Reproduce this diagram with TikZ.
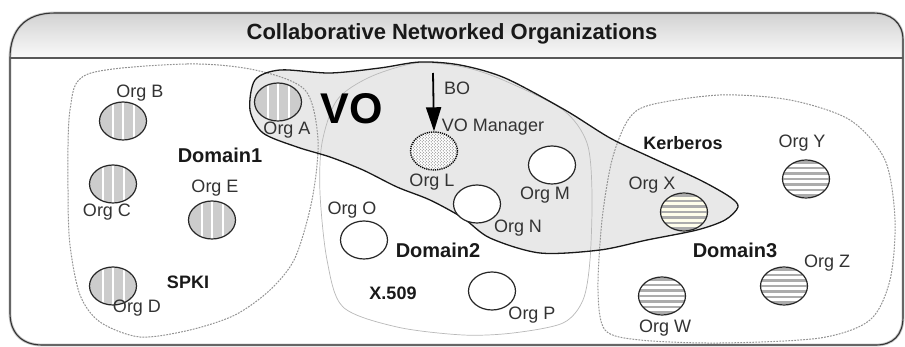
\documentclass[tikz,border=0pt]{standalone}
\usepackage{fontspec}
\setmainfont{Liberation Sans}
\usetikzlibrary{shapes.geometric,patterns,arrows.meta}
\pgfdeclarepatternformonly{bigdots}{\pgfpointorigin}{\pgfpoint{3.4pt}{3.4pt}}{\pgfpoint{3.4pt}{3.4pt}}{\pgfpathcircle{\pgfpoint{0.85pt}{0.85pt}}{0.55pt}\pgfpathcircle{\pgfpoint{2.55pt}{2.55pt}}{0.55pt}\pgfusepath{fill}}
\begin{document}
\begin{tikzpicture}[x=1pt,y=-1pt,
  org/.style={ellipse,draw=black!85,line width=1.2pt,minimum width=47pt,minimum height=38pt,inner sep=0pt},
  vorg/.style={org,fill=gray!40,path picture={\foreach \dx in {-10,0,11}{\draw[white,line width=1.4pt]([xshift=\dx pt]path picture bounding box.north)--([xshift=\dx pt]path picture bounding box.south);}}},
  horg/.style={org,fill=white,path picture={\foreach \dy in {-16.5,-11,...,17}{\draw[gray!65,line width=2.6pt]([yshift=\dy pt]path picture bounding box.west)--([yshift=\dy pt]path picture bounding box.east);}}},
  worg/.style={org,fill=white},
  lorg/.style={org,preaction={fill=white},pattern=bigdots,pattern color=black!80,densely dotted,draw=black,line width=1.4pt},
  lab/.style={font=\fontsize{18}{20}\selectfont,text=black!80,inner sep=0pt},
  blab/.style={font=\fontsize{18}{20}\selectfont\bfseries,text=black!90,inner sep=0pt},
  dlab/.style={font=\fontsize{20}{22}\selectfont\bfseries,text=black!90,inner sep=0pt},
  dom/.style={draw=gray!85,line width=1pt,dash pattern=on 1.8pt off 1.2pt},
  vo/.style={draw=black!90,line width=1.3pt},
  framestroke/.style={line width=1.1pt,draw=black!80},
  frameshadow/.style={line width=2.8pt,draw=gray!45},
]
\useasboundingbox (0,0) rectangle (905,347);
\fill[white] (0,0) rectangle (905,347);
% header band
\shade[top color=gray!35,bottom color=gray!4] (10,58) .. controls (10,30) and (25,13) .. (55,13) -- (873,13) .. controls (890,13) and (903,22) .. (903,40) -- (903,58) -- cycle;
\def\myframe{(10,58) .. controls (10,30) and (25,13) .. (55,13) -- (873,13) .. controls (890,13) and (903,22) .. (903,40) -- (903,317) .. controls (903,335) and (893,345) .. (876,345) -- (42,345) .. controls (22,345) and (10,333) .. (10,313) -- cycle}
\path[frameshadow] \myframe;
\path[framestroke] \myframe;
\draw[black!65,line width=2.2pt] (10,58) -- (903,58);
\node[font=\fontsize{22}{24}\selectfont\bfseries,text=black!90,inner sep=0pt] (title) at (452,34) {Collaborative Networked Organizations};
% VO fill
\fill[gray!18] plot[smooth cycle] coordinates {(255,80) (280,70) (330,73) (380,68) (420,62) (460,65) (505,78) (565,110) (610,138) (650,157) (700,180) (730,197) (738,207) (725,220) (697,230) (647,240) (600,250) (540,253) (490,238) (463,218) (430,200) (397,187) (363,170) (330,157) (297,147) (263,133) (250,110)};
% domains
\path[dom] plot[smooth cycle] coordinates {(88,74) (187,64) (255,70) (305,90) (318,140) (312,200) (295,258) (270,290) (235,315) (190,330) (140,337) (100,322) (80,295) (70,245) (68,190) (70,110)};
\draw[gray!55,line width=0.7pt] plot[smooth cycle] coordinates {(337,100) (370,77) (417,63) (463,67) (503,80) (563,110) (587,143) (592,193) (590,260) (583,300) (563,323) (513,333) (463,335) (397,327) (343,307) (327,260) (320,193) (322,143)};
\path[dom] plot[smooth cycle] coordinates {(650,105) (720,95) (790,100) (850,120) (885,160) (895,220) (890,280) (870,320) (820,338) (720,343) (640,340) (605,330) (598,290) (602,220) (612,160) (628,120)};
% VO outline
\draw[vo] plot[smooth cycle] coordinates {(255,80) (280,70) (330,73) (380,68) (420,62) (460,65) (505,78) (565,110) (610,138) (650,157) (700,180) (730,197) (738,207) (725,220) (697,230) (647,240) (600,250) (540,253) (490,238) (463,218) (430,200) (397,187) (363,170) (330,157) (297,147) (263,133) (250,110)};
% organizations
\node[vorg] (A) at (278,102) {};
\node[vorg] (B) at (123,121) {};
\node[vorg] (C) at (113,184) {};
\node[vorg] (D) at (113,286) {};
\node[vorg] (E) at (212,220) {};
\node[lorg] (L) at (434,151) {};
\node[worg] (M) at (552,165) {};
\node[worg] (N) at (477,204) {};
\node[worg] (O) at (364,240) {};
\node[worg] (P) at (492,291) {};
\node[horg,fill=yellow!8] (X) at (684,212) {};
\node[horg] (Y) at (806,179) {};
\node[horg] (Z) at (784,286) {};
\node[horg] (W) at (662,296) {};
% labels
\node[lab] (lA) at (287,130) {Org A};
\node[lab] (lB) at (140,93) {Org B};
\node[lab] (lC) at (107,212) {Org C};
\node[lab] (lD) at (137,308) {Org D};
\node[lab] (lE) at (215,188) {Org E};
\node[lab] (lL) at (432,182) {Org L};
\node[lab] (lM) at (545,195) {Org M};
\node[lab] (lN) at (518,228) {Org N};
\node[lab] (lO) at (352,210) {Org O};
\node[lab] (lP) at (532,315) {Org P};
\node[lab] (lX) at (652,185) {Org X};
\node[lab] (lY) at (802,143) {Org Y};
\node[lab] (lZ) at (827,263) {Org Z};
\node[lab] (lW) at (665,328) {Org W};
\node[dlab] (d1) at (220,155) {Domain1};
\node[dlab] (d2) at (438,250) {Domain2};
\node[dlab] (d3) at (735,250) {Domain3};
\node[blab] (spki) at (188,282) {SPKI};
\node[blab] (x509) at (393,293) {X.509};
\node[blab] (kerb) at (683,143) {Kerberos};
\node[font=\fontsize{43}{45}\selectfont\bfseries,text=black,inner sep=0pt] (vo) at (352,109) {VO};
\node[lab] (bo) at (457,88) {BO};
\node[lab] (vom) at (493,127) {VO Manager};
\coordinate (bostart) at (433,73);
\draw[black,line width=1.8pt,-{Triangle[length=24pt,width=15pt]}] (bostart) -- (L.north);
\end{tikzpicture}
\end{document}
